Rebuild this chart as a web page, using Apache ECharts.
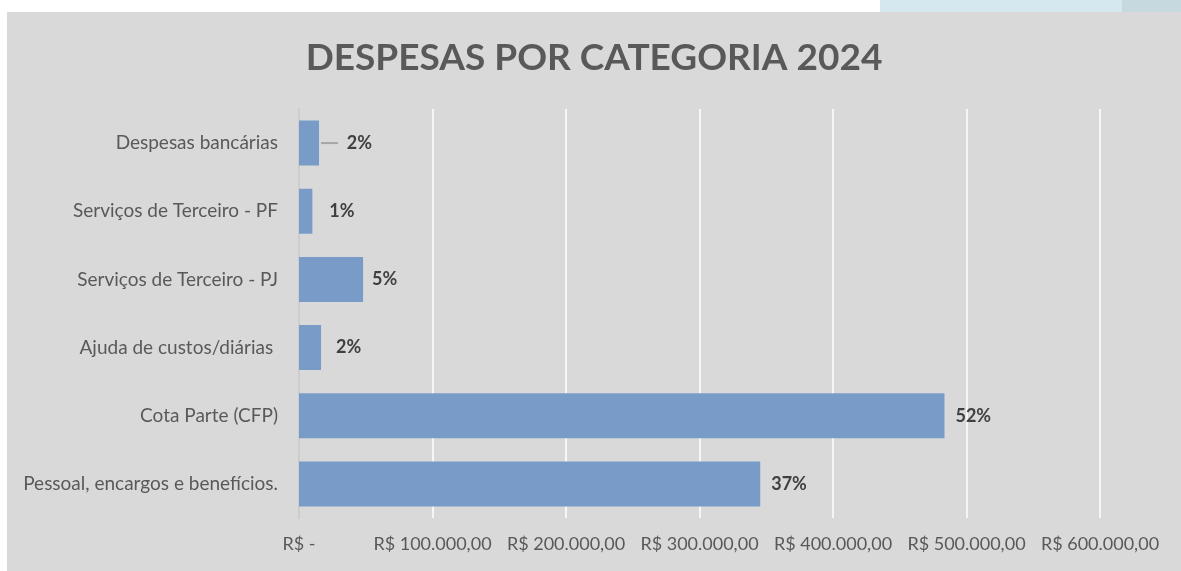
<!DOCTYPE html>
<html>
<head>
<meta charset="utf-8">
<script src="https://cdn.jsdelivr.net/npm/echarts@6/dist/echarts.min.js"></script>
<style>
  html, body { margin: 0; padding: 0; background: #ffffff; }
  .band { position: absolute; left: 880px; top: 0; width: 301px; height: 12px; background: #d5e8f0; }
  .band2 { position: absolute; left: 1122px; top: 0; width: 59px; height: 12px; background: #c6d9df; }
  #chart { position: absolute; left: 7px; top: 12px; width: 1174px; height: 559px; background: #d9d9d9; }
</style>
</head>
<body>
<div class="band"></div>
<div class="band2"></div>
<div id="chart"></div>
<script>
var categories = [
  'Despesas bancárias',
  'Serviços de Terceiro - PF',
  'Serviços de Terceiro - PJ',
  'Ajuda de custos/diárias ',
  'Cota Parte (CFP)',
  'Pessoal, encargos e benefícios.'
];
var values = [15000, 10000, 48000, 16500, 483500, 345500];
var percents = ['2%', '1%', '5%', '2%', '52%', '37%'];

// gap between bar end and its label, as Excel placed them
var labelGaps = [2, 17, 9, 15, 11, 11];

function brl(v) {
  if (v === 0) return 'R$ -';
  var s = String(Math.round(v)).replace(/\B(?=(\d{3})+(?!\d))/g, '.');
  return 'R$ ' + s + ',00';
}

var font = 'Lato, "Open Sans", sans-serif';
var chart = echarts.init(document.getElementById('chart'));

var seriesData = values.map(function (v, i) {
  return { value: v, label: { distance: labelGaps[i] } };
});

var option = {
  backgroundColor: '#d9d9d9',
  title: {
    text: 'DESPESAS POR CATEGORIA 2024',
    left: 'center',
    top: 23,
    textStyle: { fontFamily: font, fontSize: 37, fontWeight: 'bold', color: '#595959' }
  },
  grid: { left: 292, right: 81, top: 97, bottom: 53 },
  xAxis: {
    type: 'value',
    min: 0,
    max: 600000,
    interval: 100000,
    axisLine: { show: false },
    axisTick: { show: false },
    splitLine: { lineStyle: { color: '#ffffff', width: 1.5 } },
    axisLabel: {
      formatter: brl,
      margin: 17,
      fontFamily: font,
      fontSize: 18,
      color: '#595959'
    }
  },
  yAxis: {
    type: 'category',
    inverse: true,
    data: categories,
    axisLine: { show: true, lineStyle: { color: '#bfbfbf', width: 1.5 } },
    axisTick: { show: false },
    axisLabel: { margin: 21, fontFamily: font, fontSize: 19, color: '#595959' }
  },
  series: [{
    type: 'bar',
    data: seriesData,
    barWidth: 45,
    itemStyle: { color: '#789cc7' },
    label: {
      show: true,
      position: 'right',
      fontFamily: font,
      fontSize: 18,
      fontWeight: 'bold',
      color: '#404040',
      formatter: function (p) {
        if (p.dataIndex === 0) return '{ln|}  ' + percents[p.dataIndex];
        return percents[p.dataIndex];
      },
      rich: {
        ln: { width: 17, height: 2, backgroundColor: '#a6a6a6' }
      }
    }
  }]
};

chart.setOption(option);
</script>
</body>
</html>
